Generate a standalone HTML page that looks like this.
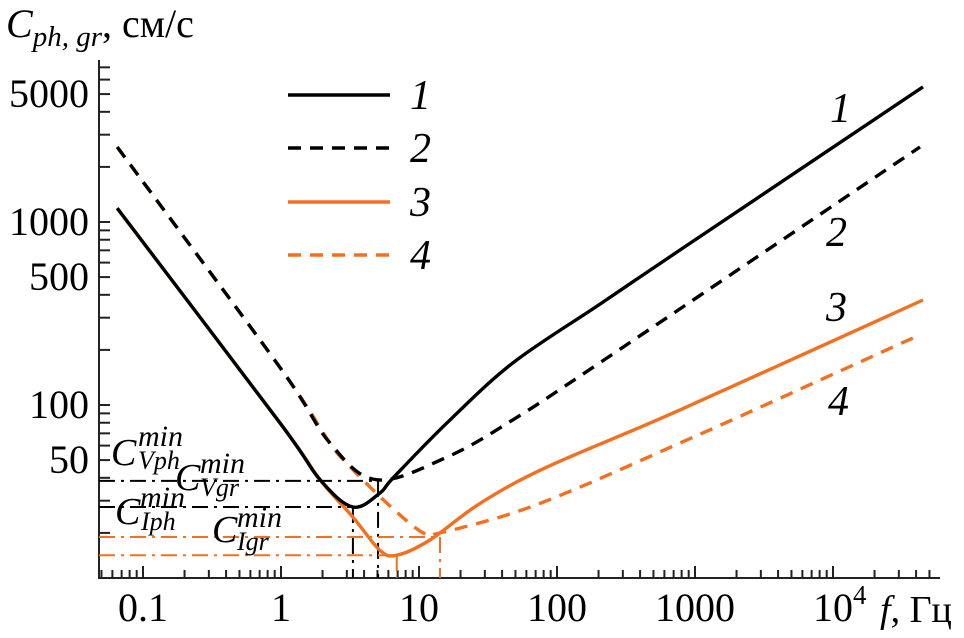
<!DOCTYPE html>
<html><head><meta charset="utf-8"><style>
html,body{margin:0;padding:0;background:#fff;}
svg{display:block;font-family:"Liberation Serif",serif;}
</style></head><body>
<svg id="chart" width="964" height="638" viewBox="0 0 964 638" xmlns="http://www.w3.org/2000/svg">
<g id="axes"></g>
<g id="refs"></g>
<g id="series"></g>
<g id="labels">
<text x="6" y="37" font-size="40"><tspan font-style="italic">C</tspan><tspan font-style="italic" font-size="29" dy="9">ph, gr</tspan><tspan dy="-9">, см/с</tspan></text>
<text x="880" y="622" font-size="38"><tspan font-style="italic">f</tspan>, Гц</text>
<g font-style="italic"><text x="111" y="465" font-size="38">C</text><text x="138" y="446" font-size="30">min</text><text x="138" y="469" font-size="26">Vph</text></g>
<g font-style="italic"><text x="175" y="490" font-size="38">C</text><text x="200" y="473" font-size="30">min</text><text x="200" y="496" font-size="26">Vgr</text></g>
<g font-style="italic"><text x="115" y="524" font-size="38">C</text><text x="140" y="507" font-size="30">min</text><text x="141" y="530" font-size="26">Iph</text></g>
<g font-style="italic"><text x="212" y="542" font-size="38">C</text><text x="237" y="527" font-size="30">min</text><text x="237" y="550" font-size="26">Igr</text></g>
<text x="830" y="122" font-size="42" font-style="italic">1</text>
<text x="826" y="246" font-size="42" font-style="italic">2</text>
<text x="826" y="321" font-size="42" font-style="italic">3</text>
<text x="828" y="415" font-size="42" font-style="italic">4</text>
</g>
<g id="legend"></g>
</svg>
<script>
const f1=[0.065,0.98,1.92,3.32,5.2,6.5,16,48,205,778,44900];
const c1=[1190,80,39,27.7,33,40,80,170,356,703,5470];
const f2=[0.065,0.98,2.26,4.96,16,48,254,42700];
const c2=[2570,161,62,39,52,83,190,2570];
const f3=[0.065,0.98,1.92,3.32,5.2,6.9,12,27.7,84.5,778,44900];
const c3=[1190,80,39,24.4,16.1,15.1,18.3,29,45.8,94,375];
const f4=[0.065,0.98,2.26,3.0,5.87,10.7,14.2,48,147,778,2000,42700];
const c4=[2570,161,62,48,29,20,20,25.7,35.6,62,85,242];
const yTickVals=[50,100,500,1000,5000];
const yTickLabels=["50","100","500","1000","5000"];
const xTickVals=[0.1,1,10,100,1000];
const xTickLabels=["0.1","1","10","100","1000"];
const minVals=[38.5,27.7,19,15.1];
const minFreqs=[5.05,3.32,14.2,6.9];
const minColors=["#000","#000","#f37021","#f37021"];

const NS="http://www.w3.org/2000/svg";
const X=f=>281+138*Math.log10(f);
const Y=c=>222+183*(3-Math.log10(c));
const L=99,R=940,B=578,T=60;
function mk(tag,attrs,parent){const e=document.createElementNS(NS,tag);for(const k in attrs)e.setAttribute(k,attrs[k]);parent.appendChild(e);return e;}
const axes=document.getElementById('axes');
let a=mk('path',{d:`M${L},${T}V${B}H${R}`,stroke:'#222',fill:'none','stroke-width':2},axes);


for(let e=1;e<=3;e++)for(let k=1;k<10;k++){const v=k*Math.pow(10,e);const y=Y(v);if(y<T||y>B)continue;
 const t=mk('line',{x1:L,x2:L+11,y1:y,y2:y,stroke:'#222','stroke-width':2},axes);
 
 }
yTickVals.forEach((v,i)=>{const t=mk('text',{x:89,y:Y(v)+13,'text-anchor':'end','font-size':40},axes);t.textContent=yTickLabels[i];
 
 });
for(let e=-2;e<=4;e++)for(let k=1;k<10;k++){const v=k*Math.pow(10,e);const x=X(v);if(x<L||x>R)continue;
 const len=k==1?12:8;
 const t=mk('line',{x1:x,x2:x,y1:B,y2:B-len,stroke:'#222','stroke-width':2},axes);
 
 }
xTickVals.forEach((v,i)=>{const t=mk('text',{x:X(v),y:621,'text-anchor':'middle','font-size':40},axes);t.textContent=xTickLabels[i];
 
 });
const t4=mk('text',{x:X(1e4)-20,y:621,'font-size':40},axes);t4.innerHTML='10<tspan font-size="27" dy="-17">4</tspan>';


const refs=document.getElementById('refs');
minVals.forEach((v,i)=>{const y=Y(v),x=X(minFreqs[i]);
 const p=mk('path',{d:`M${L},${y}H${x}M${x},${y}V${B}`,stroke:minColors[i],'stroke-width':2,fill:'none','stroke-dasharray':'16,6,3,6'},refs);
 
 });
const ser=document.getElementById('series');
function line(fs,cs,color,dash,name){
 const P=fs.map((f,i)=>[X(f),Y(cs[i])]);
 let d='M'+P[0][0].toFixed(1)+','+P[0][1].toFixed(1);
 for(let i=0;i<P.length-1;i++){
  const p0=P[Math.max(0,i-1)],p1=P[i],p2=P[i+1],p3=P[Math.min(P.length-1,i+2)];
  const t=1/6;
  const c1x=p1[0]+(p2[0]-p0[0])*t,c1y=p1[1]+(p2[1]-p0[1])*t;
  const c2x=p2[0]-(p3[0]-p1[0])*t,c2y=p2[1]-(p3[1]-p1[1])*t;
  d+=`C${c1x.toFixed(1)},${c1y.toFixed(1)} ${c2x.toFixed(1)},${c2y.toFixed(1)} ${p2[0].toFixed(1)},${p2[1].toFixed(1)}`;
 }
 const p=mk('path',{d,stroke:color,'stroke-width':3.4,fill:'none','stroke-linejoin':'round'},ser);
 if(dash)p.setAttribute('stroke-dasharray',dash);
 
 }
line(f3,c3,'#f37021',null,'series-3');
line(f4,c4,'#f37021','13,9','series-4');
line(f1,c1,'#000',null,'series-1');
line(f2,c2,'#000','13,9','series-2');
const leg=document.getElementById('legend');
[['#000',null,95,'1'],['#000','13,9',148,'2'],['#f37021',null,202,'3'],['#f37021','13,9',255,'4']].forEach(s=>{
 const l=mk('line',{x1:288,x2:390,y1:s[2],y2:s[2],stroke:s[0],'stroke-width':3.4},leg);
 if(s[1])l.setAttribute('stroke-dasharray',s[1]);
 
 
 const t=mk('text',{x:410,y:s[2]+14,'font-size':42,'font-style':'italic'},leg);t.textContent=s[3];
 
 });
</script>
</body></html>
